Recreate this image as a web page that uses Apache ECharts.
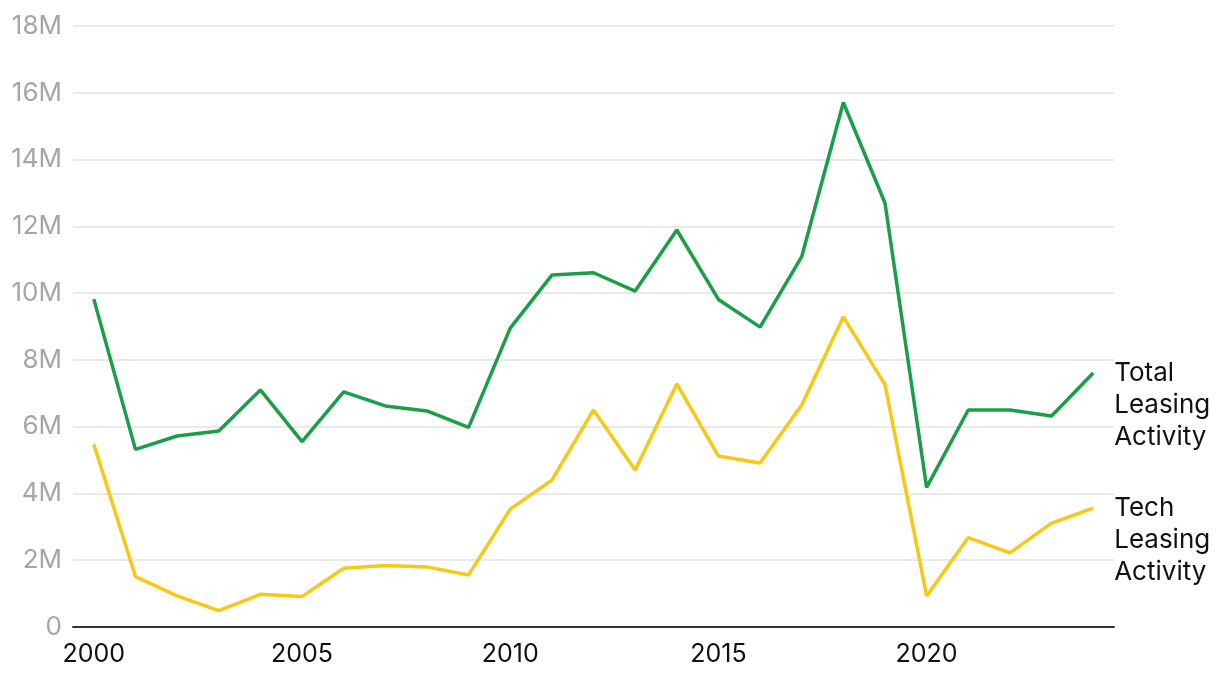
<!DOCTYPE html>
<html>
<head>
<meta charset="utf-8">
<script src="https://cdn.jsdelivr.net/npm/echarts@6/dist/echarts.min.js"></script>
<style>
html,body{margin:0;padding:0;background:#fff;}
#chart{width:1220px;height:680px;}
</style>
</head>
<body>
<div id="chart"></div>
<script>
const years = ['2000','2001','2002','2003','2004','2005','2006','2007','2008','2009','2010','2011','2012','2013','2014','2015','2016','2017','2018','2019','2020','2021','2022','2023','2024'];
const totalLeasing = [9.82,5.32,5.72,5.87,7.10,5.55,7.04,6.62,6.47,5.98,8.95,10.54,10.61,10.06,11.89,9.81,8.98,11.09,15.71,12.70,4.18,6.50,6.50,6.32,7.61];
const techLeasing = [5.47,1.51,0.93,0.49,0.98,0.91,1.76,1.84,1.80,1.56,3.53,4.40,6.50,4.70,7.28,5.12,4.91,6.65,9.29,7.26,0.93,2.68,2.22,3.11,3.56];
const seriesNames = ['Total\nLeasing\nActivity','Tech\nLeasing\nActivity'];

const font = 'Inter, "Noto Sans", sans-serif';
const chart = echarts.init(document.getElementById('chart'), null, {renderer:'canvas'});

function endLabel(text){
  return {
    show: true,
    formatter: text,
    color: '#111',
    fontFamily: font,
    fontSize: 26,
    lineHeight: 32,
    align: 'left',
    verticalAlign: 'middle',
    distance: 0,
    offset: [21, 32]
  };
}

chart.setOption({
  animation: false,
  grid: {left: 73, right: 106, top: 26, bottom: 53, containLabel: false},
  xAxis: {
    type: 'category',
    data: years,
    boundaryGap: true,
    axisLine: {show: true, lineStyle: {color: '#333', width: 2}},
    axisTick: {show: false},
    axisLabel: {interval: 4, color: '#111', fontFamily: font, fontSize: 25, margin: 15},
    splitLine: {show: false}
  },
  yAxis: {
    type: 'value',
    min: 0, max: 18, interval: 2,
    axisLine: {show: false},
    axisTick: {show: false},
    axisLabel: {
      color: '#a6a6a6', fontFamily: font, fontSize: 26, margin: 11,
      formatter: v => v === 0 ? '0' : v + 'M'
    },
    splitLine: {show: true, lineStyle: {color: '#e3e3e3', width: 1.5}}
  },
  series: [
    {
      name: 'Total Leasing Activity',
      type: 'line',
      data: totalLeasing,
      symbol: 'none',
      lineStyle: {color: '#1a9e48', width: 3.5},
      itemStyle: {color: '#1a9e48'},
      endLabel: endLabel(seriesNames[0])
    },
    {
      name: 'Tech Leasing Activity',
      type: 'line',
      data: techLeasing,
      symbol: 'none',
      lineStyle: {color: '#f8c914', width: 3.5},
      itemStyle: {color: '#f8c914'},
      endLabel: endLabel(seriesNames[1])
    }
  ]
});
</script>
</body>
</html>
